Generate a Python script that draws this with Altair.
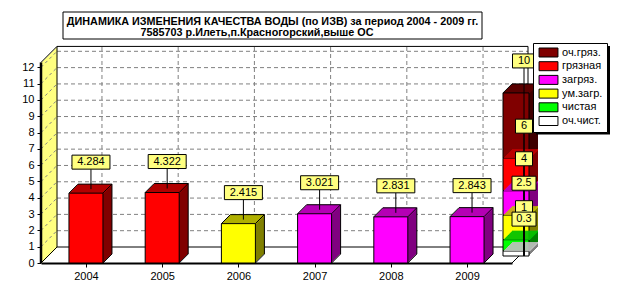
import altair as alt
import pandas as pd

# ---------------- data ----------------
years = [2004, 2005, 2006, 2007, 2008, 2009]
izv = [4.284, 4.322, 2.415, 3.021, 2.831, 2.843]
bar_class = ["грязная", "грязная", "ум.загр.", "загряз.", "загряз.", "загряз."]

classes = ["оч.гряз.", "грязная", "загряз.", "ум.загр.", "чистая", "оч.чист."]
class_upper = [10, 6, 4, 2.5, 1, 0.3]
class_lower = [6, 4, 2.5, 1, 0.3, 0]

front_colors = ["#800000", "#FF0000", "#FF00FF", "#FFFF00", "#00FF00", "#FFFFFF"]
top_colors = ["#5A0000", "#C00000", "#C000C0", "#C0C000", "#00C000", "#C0C0C0"]
side_colors = ["#400000", "#800000", "#800080", "#808000", "#008000", "#808080"]

y_ticks = list(range(0, 13))
grid_levels = list(range(1, 13))
title_line1 = "ДИНАМИКА ИЗМЕНЕНИЯ КАЧЕСТВА ВОДЫ (по ИЗВ) за период 2004 - 2009 гг."
title_line2 = "7585703  р.Илеть,п.Красногорский,выше ОС"

# ---------------- layout / style ----------------
FONT = "Liberation Sans"
X_MIN, X_MAX = 2003.41, 2009.59
Y_MAX = 13
WALL_TOP = 12.3
PLOT_W, PLOT_H = 471, 212
WD = 16          # wall depth (px)
BD = 9           # bar depth (px)
HW = 17          # half bar width (px)
S_L, S_R, S_LIFT = -9, 17, 7   # scale bar position relative to right edge
LABEL_FILL = "#FFFF80"
GRID = "#808080"

top_of = dict(zip(classes, top_colors))
side_of = dict(zip(classes, side_colors))

bars = pd.DataFrame({
    "year": years, "izv": izv, "cls": bar_class, "base": [0] * len(years),
    "top": [top_of[c] for c in bar_class],
    "side": [side_of[c] for c in bar_class],
})
scale_df = pd.DataFrame({
    "cls": classes, "lo": class_lower, "hi": class_upper,
    "top": top_colors, "side": side_colors,
})
grid_df = pd.DataFrame({"v": grid_levels})
year_df = pd.DataFrame({"year": years})
one = pd.DataFrame({"o": [0]})

xs = alt.Scale(domain=[X_MIN, X_MAX], nice=False, zero=False)
ys = alt.Scale(domain=[0, Y_MAX], nice=False, zero=True)
AX = alt.Axis(values=years, format="d", title=None, grid=False, domain=True,
              domainColor="black", domainWidth=2, ticks=True, tickSize=4,
              tickColor="black", labelFont=FONT, labelFontSize=11,
              labelColor="black", labelPadding=3)
AY = alt.Axis(values=y_ticks, title=None, grid=False, domain=False, ticks=True,
              tickSize=4, tickColor="black", labelFont=FONT, labelFontSize=11,
              labelColor="black", labelPadding=3)


def XF(f):
    return alt.X(f, type="quantitative", scale=xs, axis=AX)


def XD(v):
    return alt.XDatum(v, type="quantitative", scale=xs, axis=AX)


def YF(f):
    return alt.Y(f, type="quantitative", scale=ys, axis=AY)


def YD(v):
    return alt.YDatum(v, type="quantitative", scale=ys, axis=AY)


LEG = alt.Legend(title=None, orient="none", legendX=492, legendY=-8,
                 direction="vertical", symbolType="M-2.1,-1H2.1V1H-2.1Z",
                 symbolSize=81, symbolStrokeColor="black", symbolStrokeWidth=1,
                 labelFont=FONT, labelFontSize=11, labelColor="black",
                 fillColor="white", strokeColor="black", padding=4,
                 rowPadding=0.7, symbolOffset=6, labelOffset=8, zindex=1)
COLOR = alt.Color("cls:N", scale=alt.Scale(domain=classes, range=front_colors), legend=LEG)

layers = []

# ---- back wall grid ----
layers.append(alt.Chart(grid_df).mark_rule(color=GRID, strokeDash=[4, 3], strokeWidth=1,
              xOffset=WD, x2Offset=WD, yOffset=-WD).encode(
    x=XD(X_MIN), x2=alt.datum(X_MAX), y=YF("v")))
layers.append(alt.Chart(year_df).mark_rule(color=GRID, strokeDash=[4, 3], strokeWidth=1,
              xOffset=WD, yOffset=-WD, y2Offset=-WD).encode(
    x=XF("year"), y=YD(0), y2=alt.datum(WALL_TOP)))

# ---- left wall (yellow) ----
for k in range(WD):
    layers.append(alt.Chart(one).mark_rect(fill="#FFFF80", xOffset=k, x2Offset=k + 1.2,
                  yOffset=-k, y2Offset=-k).encode(
        x=XD(X_MIN), x2=alt.datum(X_MIN), y=YD(0), y2=alt.datum(WALL_TOP)))
layers.append(alt.Chart(grid_df).mark_rule(color=GRID, strokeDash=[3, 3], strokeWidth=1,
              x2Offset=WD, y2Offset=-WD).encode(
    x=XD(X_MIN), x2=alt.datum(X_MIN), y=YF("v"), y2=alt.Y2("v")))

# ---- wall / floor edges ----
edge = dict(color="black", strokeWidth=1)
layers.append(alt.Chart(one).mark_rule(**edge, xOffset=WD, x2Offset=WD, yOffset=-WD).encode(
    x=XD(X_MIN), x2=alt.datum(X_MAX), y=YD(WALL_TOP)))
layers.append(alt.Chart(one).mark_rule(**edge, xOffset=WD, x2Offset=WD, yOffset=-WD).encode(
    x=XD(X_MIN), x2=alt.datum(X_MAX), y=YD(0)))
for xv in (X_MIN, X_MAX):
    layers.append(alt.Chart(one).mark_rule(**edge, xOffset=WD, yOffset=-WD, y2Offset=-WD).encode(
        x=XD(xv), y=YD(0), y2=alt.datum(WALL_TOP)))
    layers.append(alt.Chart(one).mark_rule(**edge, x2Offset=WD, y2Offset=-WD).encode(
        x=XD(xv), x2=alt.datum(xv), y=YD(0), y2=alt.datum(0)))
layers.append(alt.Chart(one).mark_rule(**edge, x2Offset=WD, y2Offset=-WD).encode(
    x=XD(X_MIN), x2=alt.datum(X_MIN), y=YD(WALL_TOP), y2=alt.datum(WALL_TOP)))
layers.append(alt.Chart(one).mark_rule(color="black", strokeWidth=2.5).encode(
    x=XD(X_MIN), y=YD(0), y2=alt.datum(WALL_TOP)))

# ---- main 3D bars ----
for k in range(BD, 0, -1):
    layers.append(alt.Chart(bars).mark_rect(xOffset=-HW + k, x2Offset=HW + k,
                  yOffset=-k, y2Offset=-k).encode(
        x=XF("year"), x2=alt.X2("year"), y=YF("base"), y2=alt.Y2("izv"),
        fill=alt.Fill("side:N", scale=None, legend=None)))
    layers.append(alt.Chart(bars).mark_rect(xOffset=-HW + k, x2Offset=HW + k,
                  yOffset=-k, y2Offset=-k + 1.5).encode(
        x=XF("year"), x2=alt.X2("year"), y=YF("izv"), y2=alt.Y2("izv"),
        fill=alt.Fill("top:N", scale=None, legend=None)))
layers.append(alt.Chart(bars).mark_rect(stroke="black", strokeWidth=1,
              xOffset=-HW, x2Offset=HW).encode(
    x=XF("year"), x2=alt.X2("year"), y=YF("base"), y2=alt.Y2("izv"), color=COLOR))
# outlines
layers.append(alt.Chart(bars).mark_rule(**edge, xOffset=-HW + BD, x2Offset=HW + BD, yOffset=-BD).encode(
    x=XF("year"), x2=alt.X2("year"), y=YF("izv")))
layers.append(alt.Chart(bars).mark_rule(**edge, xOffset=HW + BD, yOffset=-BD, y2Offset=-BD).encode(
    x=XF("year"), y=YF("base"), y2=alt.Y2("izv")))
for xo in (-HW, HW):
    layers.append(alt.Chart(bars).mark_rule(**edge, xOffset=xo, x2Offset=xo + BD, y2Offset=-BD).encode(
        x=XF("year"), x2=alt.X2("year"), y=YF("izv"), y2=alt.Y2("izv")))
layers.append(alt.Chart(bars).mark_rule(**edge, xOffset=HW, x2Offset=HW + BD, y2Offset=-BD).encode(
    x=XF("year"), x2=alt.X2("year"), y=YF("base"), y2=alt.Y2("base")))

# ---- class scale bar (stacked) ----
for k in range(BD, 0, -1):
    layers.append(alt.Chart(scale_df).mark_rect(xOffset=S_L + k, x2Offset=S_R + k,
                  yOffset=-S_LIFT - k, y2Offset=-S_LIFT - k).encode(
        x=XD(X_MAX), x2=alt.datum(X_MAX), y=YF("lo"), y2=alt.Y2("hi"),
        fill=alt.Fill("side:N", scale=None, legend=None)))
    layers.append(alt.Chart(scale_df).mark_rect(xOffset=S_L + k, x2Offset=S_R + k,
                  yOffset=-S_LIFT - k, y2Offset=-S_LIFT - k + 1.5).encode(
        x=XD(X_MAX), x2=alt.datum(X_MAX), y=YF("hi"), y2=alt.Y2("hi"),
        fill=alt.Fill("top:N", scale=None, legend=None)))
layers.append(alt.Chart(scale_df).mark_rect(stroke="black", strokeWidth=1,
              xOffset=S_L, x2Offset=S_R, yOffset=-S_LIFT, y2Offset=-S_LIFT).encode(
    x=XD(X_MAX), x2=alt.datum(X_MAX), y=YF("lo"), y2=alt.Y2("hi"), color=COLOR))
lower_df = scale_df[scale_df["hi"] < max(class_upper)]
for k in range(BD, 0, -1):
    layers.append(alt.Chart(lower_df).mark_rect(xOffset=S_L + k, x2Offset=S_R + k,
                  yOffset=-S_LIFT - k, y2Offset=-S_LIFT - k + 1.2).encode(
        x=XD(X_MAX), x2=alt.datum(X_MAX), y=YF("hi"), y2=alt.Y2("hi"),
        fill=alt.Fill("top:N", scale=None, legend=None)))
top_df = scale_df[scale_df["hi"] == max(class_upper)]
layers.append(alt.Chart(top_df).mark_rule(**edge, xOffset=S_L, x2Offset=S_L + BD,
              yOffset=-S_LIFT, y2Offset=-S_LIFT - BD).encode(
    x=XD(X_MAX), x2=alt.datum(X_MAX), y=YF("hi"), y2=alt.Y2("hi")))
layers.append(alt.Chart(top_df).mark_rule(**edge, xOffset=S_L + BD, x2Offset=S_R + BD,
              yOffset=-S_LIFT - BD).encode(
    x=XD(X_MAX), x2=alt.datum(X_MAX), y=YF("hi")))

# ---- value labels ----
layers.append(alt.Chart(bars).mark_rule(**edge, xOffset=5, yOffset=-24, y2Offset=-4).encode(
    x=XF("year"), y=YF("izv"), y2=alt.Y2("izv")))
layers.append(alt.Chart(bars).mark_rect(fill=LABEL_FILL, stroke="black", strokeWidth=1,
              xOffset=-14, x2Offset=24, yOffset=-38, y2Offset=-24).encode(
    x=XF("year"), x2=alt.X2("year"), y=YF("izv"), y2=alt.Y2("izv")))
layers.append(alt.Chart(bars).mark_text(font=FONT, fontSize=11, color="black",
              align="center", baseline="middle", dx=5, dy=-31).encode(
    x=XF("year"), y=YF("izv"), text=alt.Text("izv:Q", format="~g")))

layers.append(alt.Chart(scale_df).mark_rule(**edge, xOffset=12, yOffset=-S_LIFT - 25,
              y2Offset=-S_LIFT).encode(
    x=XD(X_MAX), y=YF("hi"), y2=alt.datum(0)))
box_w = {1: 17, 2: 23, 3: 24}
for i in range(len(classes)):
    row = scale_df.iloc[[i]]
    lab = format(class_upper[i], "g")
    hw = box_w.get(len(lab), 24) / 2
    layers.append(alt.Chart(row).mark_rect(fill=LABEL_FILL, stroke="black", strokeWidth=1,
                  xOffset=12 - hw, x2Offset=12 + hw, yOffset=-S_LIFT - 39,
                  y2Offset=-S_LIFT - 25).encode(
        x=XD(X_MAX), x2=alt.datum(X_MAX), y=YF("hi"), y2=alt.Y2("hi")))
    layers.append(alt.Chart(row).mark_text(font=FONT, fontSize=11, color="black",
                  align="center", baseline="middle", dx=12, dy=-S_LIFT - 32).encode(
        x=XD(X_MAX), y=YF("hi"), text=alt.Text("hi:Q", format="~g")))

# ---- title box ----
layers.append(alt.Chart(one).mark_rect(fill="white", stroke="black", strokeWidth=1).encode(
    x=alt.value(22), x2=alt.value(441), y=alt.value(-39), y2=alt.value(-12)))
layers.append(alt.Chart(one).mark_text(text=title_line1, font=FONT, fontSize=10.8,
              fontWeight="bold", color="black", align="center", baseline="middle").encode(
    x=alt.value(231.5), y=alt.value(-29.5)))
layers.append(alt.Chart(one).mark_text(text=title_line2, font=FONT, fontSize=10.8,
              fontWeight="bold", color="black", align="center", baseline="middle").encode(
    x=alt.value(216), y=alt.value(-18.5)))

# ---- legend shadow ----
layers.append(alt.Chart(one).mark_rect(fill="black").encode(
    x=alt.value(495), x2=alt.value(569), y=alt.value(-5), y2=alt.value(83.5)))

chart = alt.layer(*layers).properties(
    width=PLOT_W, height=PLOT_H,
    autosize=alt.AutoSizeParams(type="none"),
    padding={"left": 41, "top": 51, "right": 118, "bottom": 31},
    background="white",
).configure_view(stroke=None)

chart.save("out.html", embed_options={"renderer": "svg", "actions": False})
